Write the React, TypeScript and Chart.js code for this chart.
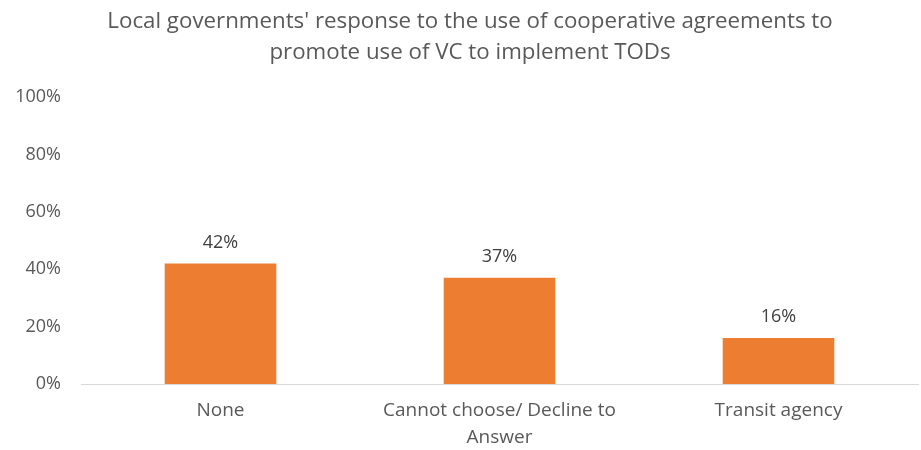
import React, { useEffect, useRef } from "react";
import { Chart, registerables } from "chart.js";

Chart.register(...registerables);

const titleLines = [
  "Local governments' response to the use of cooperative agreements to",
  "promote use of VC to implement TODs",
];
const categories: (string | string[])[] = [
  "None",
  ["Cannot choose/ Decline to", "Answer"],
  "Transit agency",
];
const values = [42, 37, 16];
const yTicks = [0, 20, 40, 60, 80, 100];

const FONT = "'Open Sans', 'Liberation Sans', sans-serif";

const labelPlugin = {
  id: "barLabels",
  afterDatasetsDraw(chart: any) {
    const ctx = chart.ctx;
    const meta = chart.getDatasetMeta(0);
    ctx.save();
    ctx.font = `18px ${FONT}`;
    ctx.fillStyle = "#404040";
    ctx.textAlign = "center";
    ctx.textBaseline = "middle";
    meta.data.forEach((bar: any, i: number) => {
      ctx.fillText(`${values[i]}%`, bar.x, bar.y - 21);
    });
    ctx.restore();
  },
};

const titlePlugin = {
  id: "customTitle",
  afterDraw(chart: any) {
    const ctx = chart.ctx;
    ctx.save();
    ctx.font = `22.3px ${FONT}`;
    ctx.fillStyle = "#595959";
    ctx.textAlign = "center";
    ctx.textBaseline = "middle";
    titleLines.forEach((line, i) => {
      ctx.fillText(line, 470, 22 + i * 30.5);
    });
    ctx.restore();
  },
};

export default function App() {
  const ref = useRef<HTMLCanvasElement>(null);
  useEffect(() => {
    document.body.style.margin = "0";
    const chart = new Chart(ref.current!, {
      type: "bar",
      data: {
        labels: categories,
        datasets: [
          {
            data: values,
            backgroundColor: "#ED7D31",
            borderWidth: 0,
            categoryPercentage: 1,
            barPercentage: 0.4,
          },
        ],
      },
      options: {
        animation: false,
        responsive: false,
        maintainAspectRatio: false,
        layout: { padding: { left: 0, right: 3, top: 97, bottom: 0 } },
        plugins: {
          legend: { display: false },
          tooltip: { enabled: false },
          title: { display: false },
        },
        scales: {
          x: {
            grid: { display: false, drawTicks: false },
            border: { display: true, color: "#D9D9D9", width: 1 },
            ticks: {
              color: "#595959",
              font: { family: FONT, size: 19, lineHeight: 1.42 },
              padding: 13,
              maxRotation: 0,
              autoSkip: false,
            },
            afterFit: (s: any) => {
              s.height = 66;
            },
          },
          y: {
            min: 0,
            max: 100,
            afterBuildTicks: (s: any) => {
              s.ticks = yTicks.map((v) => ({ value: v }));
            },
            grid: { display: false, drawTicks: false },
            border: { display: false },
            ticks: {
              color: "#595959",
              font: { family: FONT, size: 18 },
              padding: 20,
              callback: (v: any) => `${v}%`,
            },
            afterFit: (s: any) => {
              s.width = 81;
            },
          },
        },
      },
      plugins: [labelPlugin, titlePlugin],
    });
    return () => chart.destroy();
  }, []);
  return <canvas ref={ref} width={921} height={450} style={{ display: "block" }} />;
}
